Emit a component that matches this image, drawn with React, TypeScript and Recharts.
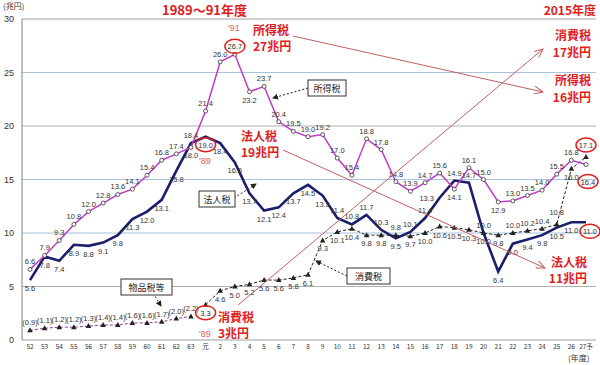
import { LabelList, Line, LineChart, ReferenceLine, XAxis, YAxis } from "recharts";

const years = [
  "52", "53", "54", "55", "56", "57", "58", "59", "60", "61", "62", "63",
  "元", "2", "3", "4", "5", "6", "7", "8", "9", "10", "11", "12", "13",
  "14", "15", "16", "17", "18", "19", "20", "21", "22", "23", "24", "25", "26", "27予",
];

// 所得税
const incomeTax = [
  6.6, 7.9, 9.3, 10.8, 12.0, 12.8, 13.6, 14.1, 15.4, 16.8, 17.4, 18.0,
  21.4, 26.0, 26.7, 23.2, 23.7, 20.4, 19.5, 19.0, 19.2, 17.0, 15.4, 18.8, 17.8,
  14.8, 13.9, 14.7, 15.6, 14.1, 16.1, 15.0, 12.9, 13.0, 13.5, 14.0, 15.5, 16.8, 16.4,
];
// 法人税
const corpTax = [
  5.6, 7.8, 7.4, 8.9, 8.8, 9.1, 9.8, 11.3, 12.0, 13.1, 15.8, 18.4,
  19.0, 18.4, 16.6, 13.7, 12.1, 12.4, 13.7, 14.5, 13.5, 11.4, 10.8, 11.7, 10.3,
  9.5, 10.1, 11.4, 13.3, 14.9, 14.7, 10.0, 6.4, 9.0, 9.4, 9.8, 10.5, 11.0, 11.0,
];
// 消費税
const consTax = [
  null, null, null, null, null, null, null, null, null, null, null, null,
  3.3, 4.6, 5.0, 5.2, 5.6, 5.6, 5.8, 6.1, 9.3, 10.1, 10.4, 9.8, 9.8,
  9.8, 9.7, 10.0, 10.6, 10.5, 10.3, 10.0, 9.8, 10.0, 10.2, 10.4, 10.8, 16.0, 17.1,
];
// 物品税等
const goodsTax = [0.9, 1.1, 1.2, 1.2, 1.3, 1.4, 1.4, 1.6, 1.6, 1.7, 2.0, 2.2];

// label placement overrides by index (t above, b below, l left, T far above, B far below)
const incomePos: Record<number, string> = { 11: "b", 15: "b", 29: "b", 32: "b", 38: "B" };
const corpPos: Record<number, string> = {
  11: "t", 21: "t", 22: "t", 23: "t", 24: "t", 26: "t", 27: "t", 28: "l", 29: "t", 30: "t", 38: "r",
};
const consPos: Record<number, string> = { 25: "t", 31: "t", 33: "t", 34: "t", 35: "t", 36: "T", 38: "T" };

const data = years.map((y, i) => ({
  year: y,
  income: incomeTax[i],
  corp: corpTax[i],
  cons: consTax[i],
  goods: i < goodsTax.length ? goodsTax[i] : null,
}));

const RED = "#e0201c";

const offsets: Record<string, [number, number]> = {
  t: [0, -5],
  T: [0, -9],
  b: [0, 11],
  B: [2, 20],
  l: [-13, 3],
  r: [4, 12],
};

const makeLabel =
  (def: string, pos: Record<number, string>, circled: number[], fmt = (v: number) => v.toFixed(1)) =>
  (props: any) => {
    const { x, y, value, index } = props;
    if (value == null || x == null || y == null) return null;
    const [dx, dy] = offsets[pos[index] || def];
    const tx = x + dx;
    const ty = y + dy;
    return (
      <g>
        <text x={tx} y={ty} textAnchor="middle" fontSize={7.5} fill="#333" fontFamily="Arial, sans-serif">
          {fmt(value)}
        </text>
        {circled.includes(index) && (
          <ellipse cx={tx} cy={ty - 3} rx={10} ry={7} fill="none" stroke={RED} strokeWidth={1.5} />
        )}
      </g>
    );
  };

const OpenDot = (props: any) => {
  const { cx, cy } = props;
  if (cy == null) return null;
  return <circle cx={cx} cy={cy} r={2} fill="#fff" stroke="#333" strokeWidth={0.8} />;
};

const Tri = (props: any) => {
  const { cx, cy } = props;
  if (cy == null) return null;
  return <path d={`M${cx},${cy - 3}L${cx + 2.8},${cy + 2}L${cx - 2.8},${cy + 2}Z`} fill="#222" />;
};

const gridLines = [
  { v: 5, c: "#b0b0b0" },
  { v: 10, c: "#a8c4dc" },
  { v: 15, c: "#a8c4dc" },
  { v: 20, c: "#b0b0b0" },
  { v: 25, c: "#a8c4dc" },
  { v: 30, c: "#a0a0a0" },
];

const jp = "'Noto Sans CJK JP', sans-serif";

const Callout = ({ x, y, w, text }: { x: number; y: number; w: number; text: string }) => (
  <g>
    <rect x={x} y={y} width={w} height={16} fill="#fff" stroke="#333" strokeWidth={1} />
    <text x={x + w / 2} y={y + 12} textAnchor="middle" fontSize={9} fill="#222" fontFamily={jp}>
      {text}
    </text>
  </g>
);

const RedText = ({ x, y, t, anchor = "start", size = 12 }: any) => (
  <text x={x} y={y} fontSize={size} fontWeight="bold" fill={RED} fontFamily={jp} textAnchor={anchor}>
    {t}
  </text>
);

const App = () => {
  return (
    <div style={{ position: "relative", width: 600, height: 365, background: "#fff" }}>
      <style>{"body{margin:0}"}</style>
      <LineChart width={600} height={365} data={data} margin={{ top: 19, right: 4, bottom: 0, left: 0 }}>
        <XAxis
          dataKey="year"
          interval={0}
          padding={{ left: 8, right: 10 }}
          tickLine={false}
          axisLine={{ stroke: "#a0a0a0" }}
          tick={{ fontSize: 6.5, fill: "#333", fontFamily: jp, dy: -4 }}
          height={25}
        />
        <YAxis
          domain={[0, 30]}
          ticks={[0, 5, 10, 15, 20, 25, 30]}
          width={22}
          tickLine={false}
          axisLine={{ stroke: "#808080" }}
          tick={{ fontSize: 9, fill: "#333", fontFamily: "Arial, sans-serif" }}
        />
        {gridLines.map((g) => (
          <ReferenceLine key={g.v} y={g.v} stroke={g.c} strokeWidth={1} />
        ))}
        <Line
          dataKey="goods"
          stroke="#8a3a8a"
          strokeWidth={1}
          strokeDasharray="3 2"
          dot={<Tri />}
          isAnimationActive={false}
        >
          <LabelList dataKey="goods" content={makeLabel("t", {}, [], (v) => `(${v.toFixed(1)})`)} />
        </Line>
        <Line
          dataKey="cons"
          stroke="#222"
          strokeWidth={1}
          strokeDasharray="3 2"
          dot={<Tri />}
          isAnimationActive={false}
        >
          <LabelList dataKey="cons" content={makeLabel("b", consPos, [12, 38])} />
        </Line>
        <Line dataKey="corp" stroke="#1b1f6b" strokeWidth={2.6} dot={false} isAnimationActive={false}>
          <LabelList dataKey="corp" content={makeLabel("b", corpPos, [12, 38])} />
        </Line>
        <Line dataKey="income" stroke="#c03cc8" strokeWidth={1.5} dot={<OpenDot />} isAnimationActive={false}>
          <LabelList dataKey="income" content={makeLabel("t", incomePos, [14, 38])} />
        </Line>
      </LineChart>
      <svg width={600} height={365} style={{ position: "absolute", left: 0, top: 0, pointerEvents: "none" }}>
        <defs>
          <marker id="ah" markerWidth="10" markerHeight="8" refX="9" refY="4" orient="auto">
            <path d="M0,0 L9,4 L0,8" fill="none" stroke="#c06060" strokeWidth={1} />
          </marker>
          <marker id="dh" markerWidth="6" markerHeight="6" refX="5" refY="3" orient="auto">
            <path d="M0,0 L6,3 L0,6 Z" fill="#222" />
          </marker>
        </defs>
        <text x={3} y={9} fontSize={8} fill="#333" fontFamily={jp}>(兆円)</text>
        <text x={568} y={361} fontSize={8} fill="#333" fontFamily={jp}>(年度)</text>

        <RedText x={162} y={15} t="1989～91年度" size={13} />
        <RedText x={596} y={15} t="2015年度" anchor="end" size={12} />
        <text x={228} y={31} fontSize={9} fill="#e06060" fontFamily="Arial">'91</text>
        <RedText x={253} y={35} t="所得税" />
        <RedText x={253} y={51} t="27兆円" />
        <RedText x={241} y={141} t="法人税" />
        <RedText x={241} y={157} t="19兆円" />
        <text x={199} y={164} fontSize={9} fill="#e06060" fontFamily="Arial">'89</text>
        <RedText x={218} y={322} t="消費税" />
        <RedText x={218} y={338} t="3兆円" />
        <text x={199} y={337} fontSize={9} fill="#e06060" fontFamily="Arial">'89</text>
        <RedText x={591} y={40} t="消費税" anchor="end" />
        <RedText x={591} y={57} t="17兆円" anchor="end" />
        <RedText x={591} y={85} t="所得税" anchor="end" />
        <RedText x={591} y={102} t="16兆円" anchor="end" />
        <RedText x={587} y={267} t="法人税" anchor="end" />
        <RedText x={587} y={283} t="11兆円" anchor="end" />

        <line x1={293} y1={36} x2={543} y2={92} stroke="#c06060" strokeWidth={1} markerEnd="url(#ah)" />
        <line x1={238} y1={305} x2={543} y2={49} stroke="#c06060" strokeWidth={1} markerEnd="url(#ah)" />
        <line x1={283} y1={150} x2={545} y2={268} stroke="#c06060" strokeWidth={1} markerEnd="url(#ah)" />

        <line x1={308} y1={88} x2={273} y2={98} stroke="#222" strokeDasharray="2 2" markerEnd="url(#dh)" />
        <Callout x={308} y={80} w={38} text="所得税" />
        <line x1={234} y1={198} x2={256} y2={184} stroke="#222" strokeDasharray="2 2" markerEnd="url(#dh)" />
        <Callout x={199} y={191} w={36} text="法人税" />
        <line x1={347} y1={276} x2={316} y2={261} stroke="#222" strokeDasharray="2 2" markerEnd="url(#dh)" />
        <Callout x={347} y={268} w={43} text="消費税" />
        <line x1={153} y1={293} x2={161} y2={306} stroke="#222" strokeDasharray="2 2" markerEnd="url(#dh)" />
        <Callout x={121} y={279} w={51} text="物品税等" />
      </svg>
    </div>
  );
};

export default App;
